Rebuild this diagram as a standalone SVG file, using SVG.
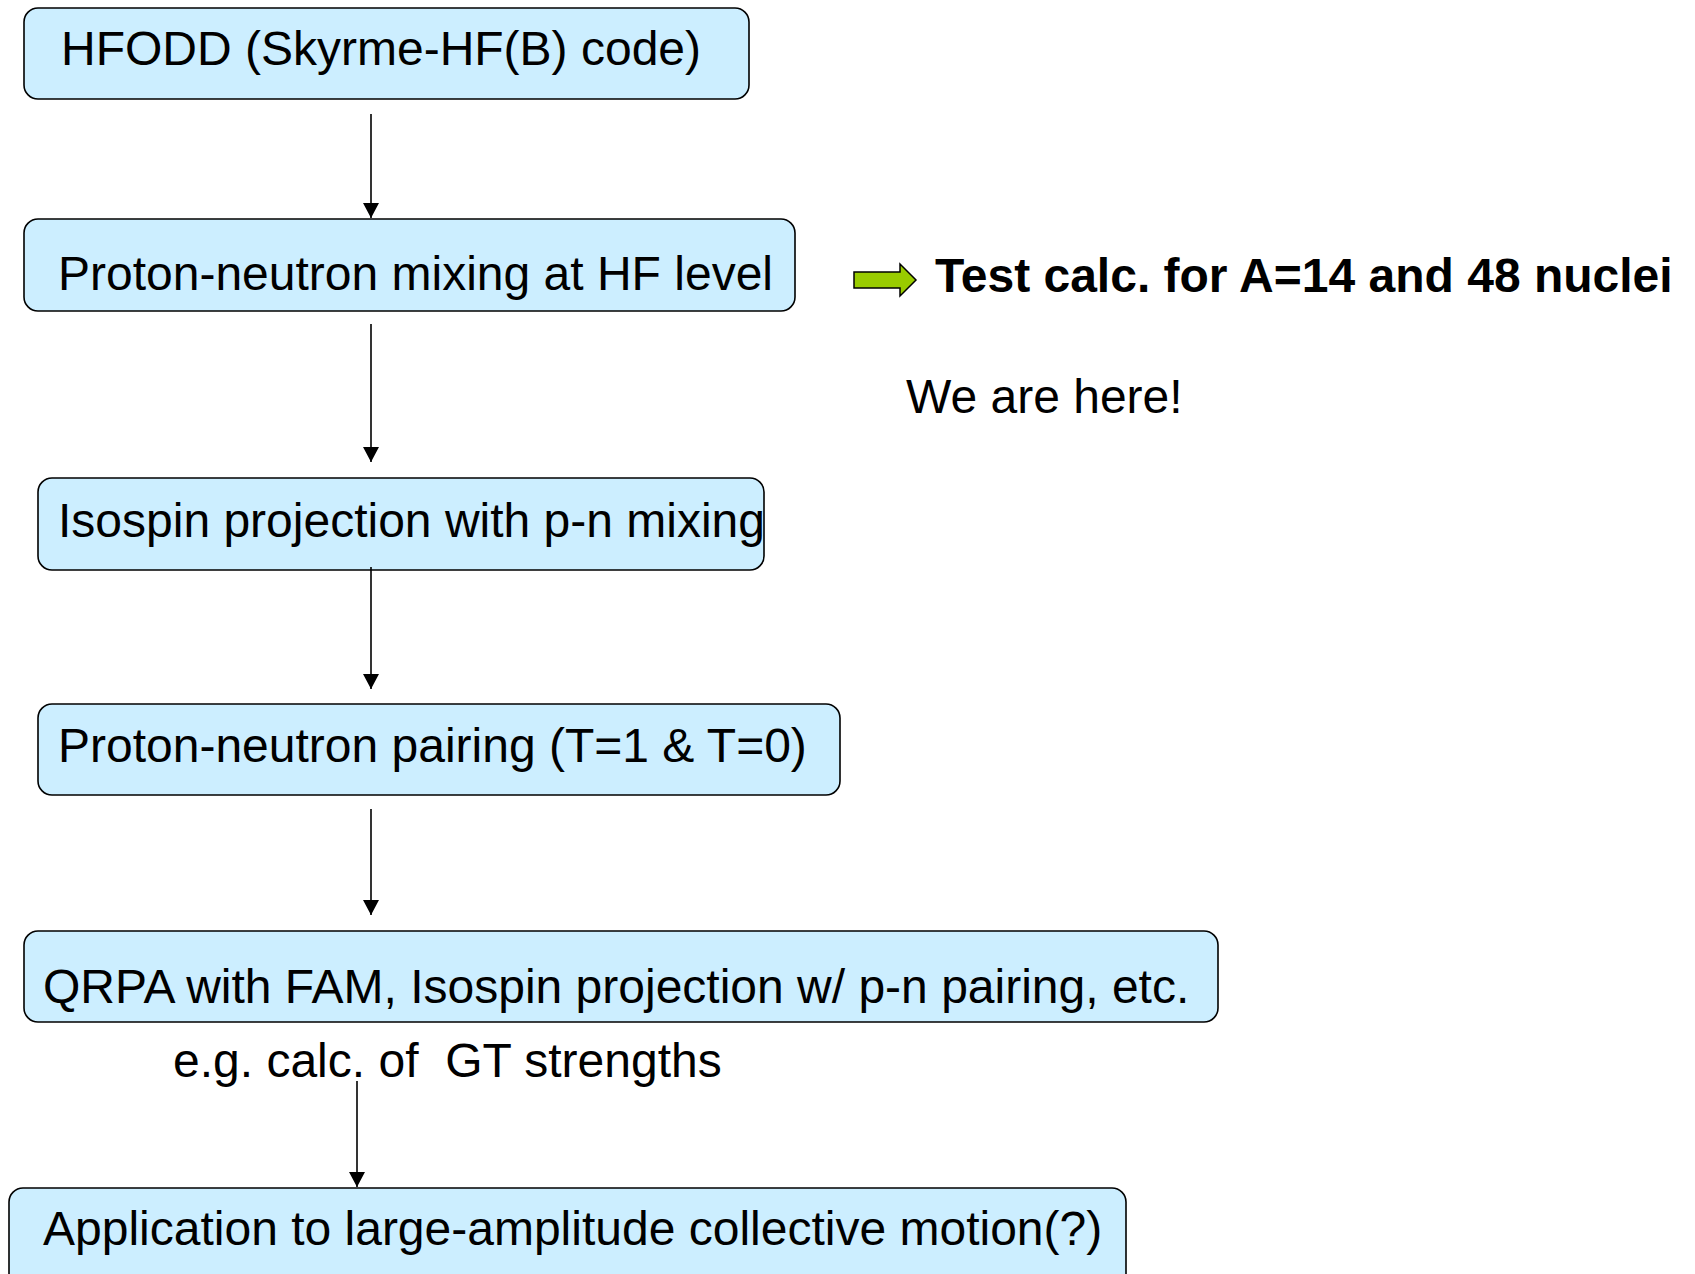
<svg xmlns="http://www.w3.org/2000/svg" width="1695" height="1274" viewBox="0 0 1695 1274">
<defs>
<style>
.box{fill:#cceeff;stroke:#000;stroke-width:1.6}
.t{font-family:"Liberation Sans",Arial,sans-serif;font-size:48px;fill:#000}
.b{font-weight:bold}
.c{stroke:#000;stroke-width:1.6;fill:none}
</style>
<marker id="ah" viewBox="0 0 15 16" refX="15" refY="8" markerWidth="15" markerHeight="16" markerUnits="userSpaceOnUse" orient="auto">
<path d="M0,0 L15,8 L0,16 Z" fill="#000"/>
</marker>
</defs>
<rect width="1695" height="1274" fill="#fff"/>
<g id="n1"><rect class="box" x="24" y="8" width="725" height="91" rx="14"/><text class="t" x="61" y="65">HFODD (Skyrme-HF(B) code)</text></g>
<g id="n2"><rect class="box" x="24" y="219" width="771" height="92" rx="14"/><text class="t" x="58" y="290">Proton-neutron mixing at HF level</text></g>
<g id="n3"><rect class="box" x="38" y="478" width="726" height="92" rx="14"/><text class="t" x="58" y="537">Isospin projection with p-n mixing</text></g>
<g id="n4"><rect class="box" x="38" y="704" width="802" height="91" rx="14"/><text class="t" x="58" y="762">Proton-neutron pairing (T=1 &amp; T=0)</text></g>
<g id="n5"><rect class="box" x="24" y="931" width="1194" height="91" rx="14"/><text class="t" x="43" y="1003">QRPA with FAM, Isospin projection w/ p-n pairing, etc.</text></g>
<g id="n6"><rect class="box" x="9" y="1188" width="1117" height="110" rx="14"/><text class="t" x="43" y="1245">Application to large-amplitude collective motion(?)</text></g>
<g id="note1"><path d="M854,272 L900,272 L900,264 L916,280 L900,296 L900,288 L854,288 Z" fill="#99cc00" stroke="#000" stroke-width="1.5"/><text class="t b" x="935" y="292">Test calc. for A=14 and 48 nuclei</text></g>
<g id="note2"><text class="t" x="906" y="413">We are here!</text></g>
<g id="note3"><text class="t" x="173" y="1077" style="white-space:pre" xml:space="preserve">e.g. calc. of  GT strengths</text></g>
<g id="connectors">
<line class="c" x1="371" y1="114" x2="371" y2="218" marker-end="url(#ah)"/>
<line class="c" x1="371" y1="324" x2="371" y2="462" marker-end="url(#ah)"/>
<line class="c" x1="371" y1="567" x2="371" y2="689" marker-end="url(#ah)"/>
<line class="c" x1="371" y1="809" x2="371" y2="915" marker-end="url(#ah)"/>
<line class="c" x1="357" y1="1081" x2="357" y2="1187" marker-end="url(#ah)"/>
</g>
</svg>
